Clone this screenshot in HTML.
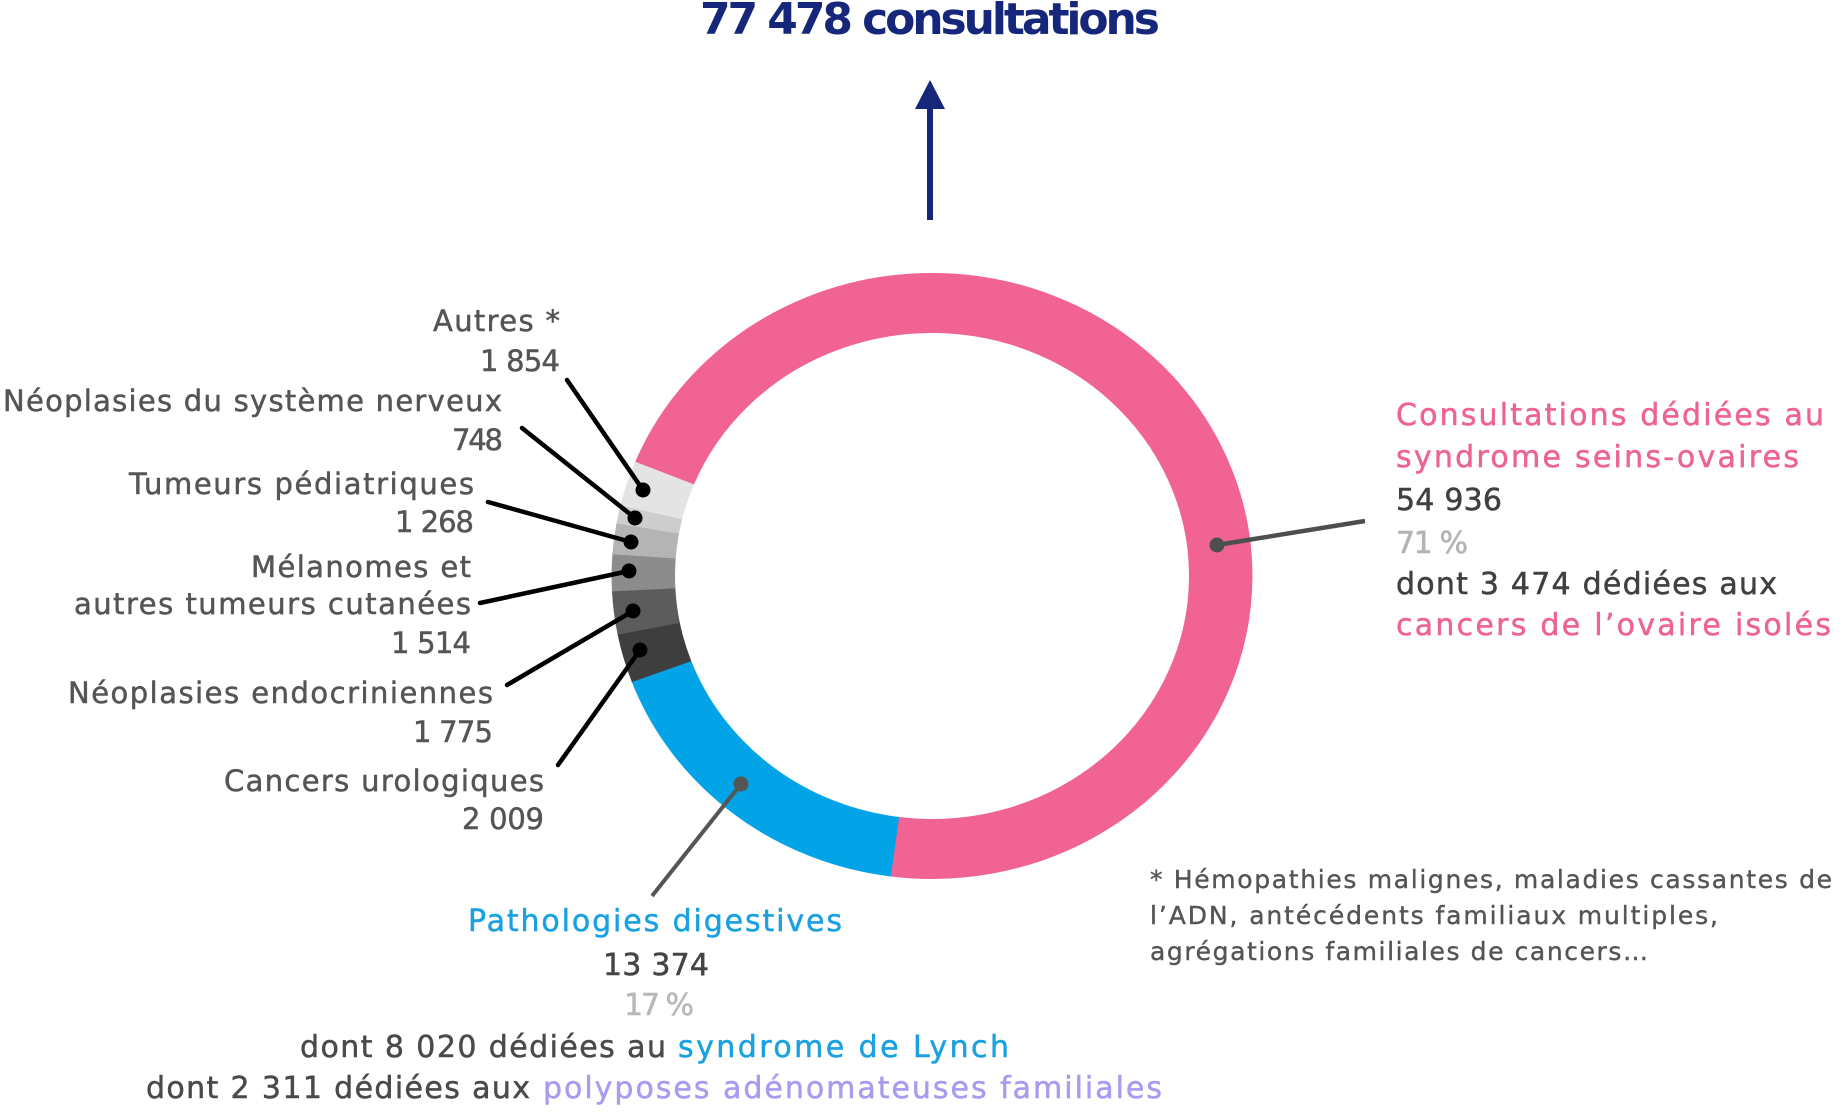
<!DOCTYPE html>
<html>
<head>
<meta charset="utf-8">
<style>
html,body{margin:0;padding:0;background:#ffffff;}
svg{display:block;}
text{font-family:"DejaVu Sans","Liberation Sans",sans-serif;}
</style>
</head>
<body>
<svg xmlns="http://www.w3.org/2000/svg" width="1842" height="1120" viewBox="0 0 1842 1120">
  <rect x="0" y="0" width="1842" height="1120" fill="#ffffff"/>

  <!-- Title -->
  <text x="700" y="34" font-family="'Liberation Sans',sans-serif" font-weight="bold" font-size="44" fill="#16267a" textLength="460" lengthAdjust="spacing">77 478 consultations</text>

  <!-- Arrow -->
  <line x1="930" y1="104" x2="930" y2="220" stroke="#16267a" stroke-width="6"/>
  <polygon points="930,80 915,109 945,109" fill="#16267a"/>

  <!-- Donut -->
  <g transform="translate(932,576) scale(1.0575,1)" fill="none" stroke-width="60">
    <circle r="273" stroke="#f06392" stroke-dasharray="1217 3000" transform="rotate(202.1)"/>
    <circle r="273" stroke="#03a3e8" stroke-dasharray="297 3000" transform="rotate(97.36)"/>
    <circle r="273" stroke="#3e3e3e" stroke-dasharray="45 3000" transform="rotate(159.5)"/>
    <circle r="273" stroke="#5c5c5c" stroke-dasharray="39.8 3000" transform="rotate(168.835)"/>
    <circle r="273" stroke="#8c8c8c" stroke-dasharray="34 3000" transform="rotate(177.083)"/>
    <circle r="273" stroke="#b4b4b4" stroke-dasharray="28.6 3000" transform="rotate(184.118)"/>
    <circle r="273" stroke="#cdcdcd" stroke-dasharray="17.1 3000" transform="rotate(190.01)"/>
    <circle r="273" stroke="#e4e4e4" stroke-dasharray="41.3 3000" transform="rotate(193.486)"/>
  </g>

  <!-- Black leader lines for small segments -->
  <g stroke="#000" stroke-width="4.5" stroke-linecap="round">
    <line x1="567" y1="380" x2="643" y2="490"/>
    <line x1="522" y1="428" x2="635" y2="518"/>
    <line x1="488" y1="502" x2="631" y2="542"/>
    <line x1="480" y1="603" x2="629" y2="571"/>
    <line x1="507" y1="685" x2="633" y2="611"/>
    <line x1="558" y1="765" x2="640" y2="650"/>
  </g>
  <g fill="#000">
    <circle cx="643" cy="490" r="7.5"/>
    <circle cx="635" cy="518" r="7.5"/>
    <circle cx="631" cy="542" r="7.5"/>
    <circle cx="629" cy="571" r="7.5"/>
    <circle cx="633" cy="611" r="7.5"/>
    <circle cx="640" cy="650" r="7.5"/>
  </g>

  <!-- Pink leader -->
  <line x1="1217" y1="545" x2="1365" y2="521" stroke="#4e4e4e" stroke-width="4.5"/>
  <circle cx="1217" cy="545" r="7.5" fill="#4e4e4e"/>

  <!-- Blue leader -->
  <line x1="741" y1="784" x2="652" y2="896" stroke="#555555" stroke-width="4"/>
  <circle cx="741" cy="784" r="7.5" fill="#555555"/>

  <!-- Left labels -->
  <g font-size="29" fill="#555555" stroke="#555555" stroke-width="0.5">
    <text x="433" y="331" textLength="127" lengthAdjust="spacing">Autres *</text>
    <text x="480" y="371" textLength="80" lengthAdjust="spacing">1 854</text>
    <text x="3" y="411" textLength="499" lengthAdjust="spacing">Néoplasies du système nerveux</text>
    <text x="452" y="450" textLength="51" lengthAdjust="spacing">748</text>
    <text x="129" y="494" textLength="345" lengthAdjust="spacing">Tumeurs pédiatriques</text>
    <text x="395" y="532" textLength="79" lengthAdjust="spacing">1 268</text>
    <text x="251" y="577" textLength="220" lengthAdjust="spacing">Mélanomes et</text>
    <text x="74" y="614" textLength="397" lengthAdjust="spacing">autres tumeurs cutanées</text>
    <text x="391" y="653" textLength="80" lengthAdjust="spacing">1 514</text>
    <text x="68" y="703" textLength="425" lengthAdjust="spacing">Néoplasies endocriniennes</text>
    <text x="413" y="742" textLength="80" lengthAdjust="spacing">1 775</text>
    <text x="224" y="791" textLength="320" lengthAdjust="spacing">Cancers urologiques</text>
    <text x="462" y="829" textLength="82" lengthAdjust="spacing">2 009</text>
  </g>

  <!-- Right labels -->
  <g font-size="30" stroke-width="0.5">
    <text x="1396" y="425" fill="#ee6294" stroke="#ee6294" textLength="428" lengthAdjust="spacing">Consultations dédiées au</text>
    <text x="1396" y="467" fill="#ee6294" stroke="#ee6294" textLength="403" lengthAdjust="spacing">syndrome seins-ovaires</text>
    <text x="1396" y="510" fill="#404040" stroke="#404040" textLength="106" lengthAdjust="spacing">54 936</text>
    <text x="1396" y="553" fill="#b3b3b3" stroke="#b3b3b3" textLength="72" lengthAdjust="spacing">71 %</text>
    <text x="1396" y="594" fill="#404040" stroke="#404040" textLength="381" lengthAdjust="spacing">dont 3 474 dédiées aux</text>
    <text x="1396" y="635" fill="#ee6294" stroke="#ee6294" textLength="435" lengthAdjust="spacing">cancers de l’ovaire isolés</text>
  </g>

  <!-- Bottom labels -->
  <g font-size="30" stroke-width="0.5">
    <text x="468" y="931" fill="#1aa1e2" stroke="#1aa1e2" textLength="374" lengthAdjust="spacing">Pathologies digestives</text>
    <text x="603" y="975" fill="#444444" stroke="#444444" textLength="106" lengthAdjust="spacing">13 374</text>
    <text x="624" y="1015" fill="#b8b8b8" stroke="#b8b8b8" textLength="70" lengthAdjust="spacing">17 %</text>
    <text x="300" y="1057" fill="#4a4a4a" stroke="#4a4a4a" textLength="366" lengthAdjust="spacing">dont 8 020 dédiées au</text>
    <text x="678" y="1057" fill="#1aa1e2" stroke="#1aa1e2" textLength="331" lengthAdjust="spacing">syndrome de Lynch</text>
    <text x="146" y="1098" fill="#4a4a4a" stroke="#4a4a4a" textLength="384" lengthAdjust="spacing">dont 2 311 dédiées aux</text>
    <text x="543" y="1098" fill="#a69cf0" stroke="#a69cf0" textLength="619" lengthAdjust="spacing">polyposes adénomateuses familiales</text>
  </g>

  <!-- Footnote -->
  <g font-size="25" fill="#555555" stroke="#555555" stroke-width="0.4">
    <text x="1150" y="888" textLength="682" lengthAdjust="spacing">* Hémopathies malignes, maladies cassantes de</text>
    <text x="1150" y="924" textLength="568" lengthAdjust="spacing">l’ADN, antécédents familiaux multiples,</text>
    <text x="1150" y="960" textLength="498" lengthAdjust="spacing">agrégations familiales de cancers…</text>
  </g>
</svg>
</body>
</html>
